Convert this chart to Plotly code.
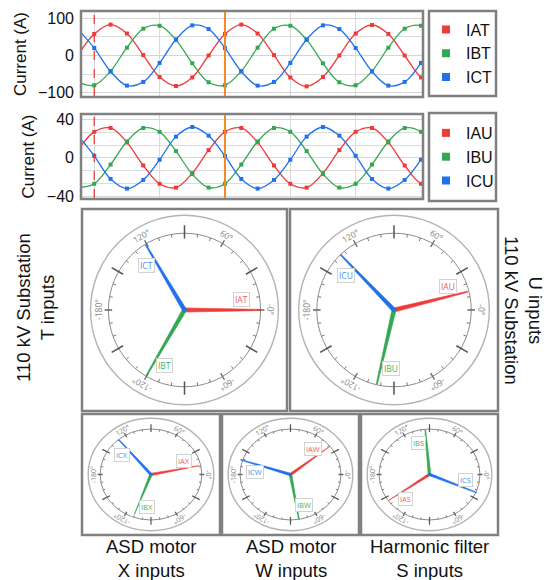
import math
import plotly.graph_objects as go

W, H = 546, 580

# ---------------- data ----------------
sample_index = list(range(-1, 22))          # sampling instants, 8 per cycle
cursor_samples = [0, 8]                      # red dashed cursor, orange cursor
grid_samples = [0, 4, 8, 12, 16, 20]

IAT = [1, 58, 83, 59, 1, -58, -82, -59, 0, 58, 83, 59, 1, -59, -83, -58, 0, 59, 82, 58, 0, -59, -83]
IBT = [-72, -80, -42, 21, 72, 80, 42, -21, -72, -80, -42, 21, 72, 80, 42, -21, -72, -80, -42, 21, 72, 80, 42]
ICT = [71, 20, -43, -81, -71, -20, 43, 81, 71, 20, -43, -81, -71, -20, 43, 81, 71, 20, -43, -81, -71, -20, 43]

IAU = [8, 27, 31, 16, -8, -27, -31, -16, 8, 27, 31, 16, -8, -27, -31, -16, 8, 27, 31, 16, -8, -27, -31]
IBU = [-31, -27, -7, 17, 31, 27, 7, -17, -31, -27, -7, 17, 31, 27, 7, -17, -31, -27, -7, 17, 31, 27, 7]
ICU = [23, 2, -22, -32, -23, -2, 22, 32, 23, 2, -22, -32, -23, -2, 22, 32, 23, 2, -22, -32, -23, -2, 22]

T_names = ["IAT", "IBT", "ICT"]
U_names = ["IAU", "IBU", "ICU"]
T_tickvals = [-100, 0, 100]
T_minor = [-50, 50]
U_tickvals = [-40, 0, 40]
U_minor = [-26.7, -13.3, 13.3, 26.7]

# phasors: angle (deg), magnitude relative to dial ring
T_ph_names = ["IAT", "IBT", "ICT"]; T_ph_angles = [0.0, -120.3, 120.9]; T_ph_mags = [1.00, 0.99, 0.99]
U_ph_names = ["IAU", "IBU", "ICU"]; U_ph_angles = [14.0, -103.0, 133.8]; U_ph_mags = [0.98, 0.99, 1.00]
X_ph_names = ["IAX", "IBX", "ICX"]; X_ph_angles = [12.0, -110.0, 129.7]; X_ph_mags = [0.97, 0.94, 0.99]
W_ph_names = ["IAW", "IBW", "ICW"]; W_ph_angles = [38.9, -80.4, 161.8]; W_ph_mags = [1.00, 0.98, 1.04]
S_ph_names = ["IAS", "IBS", "ICS"]; S_ph_angles = [-144.4, 94.9, -23.1]; S_ph_mags = [0.99, 0.98, 1.01]

dial_label_angles = [0, 60, 120, 180, -120, -60]
dial_label_texts = ["-0°", "60°", "120°", "-180°", "-120°", "-60°"]

side_texts = ["110 kV Substation<br>T inputs", "U inputs<br>110 kV Substation"]
captions = ["ASD motor<br>X inputs", "ASD motor<br>W inputs", "Harmonic filter<br>S inputs"]

# ---------------- style ----------------
RED, GREEN, BLUE = "#ef3a3a", "#33a852", "#1f72ea"
PH_COL = [RED, GREEN, BLUE]
LAB_COL = ["#f05b5b", "#45b060", "#4d8ff0"]
ARIAL = "Arial, Liberation Sans, sans-serif"
SEGOE = "Open Sans, Noto Sans, sans-serif"
BORDER = "#808080"


def fx(p):
    return p / W


def fy(p):
    return 1 - p / H


fig = go.Figure()

# ---------------- waveform panels ----------------
wave_sets = [
    (T_names, [IAT, IBT, ICT], "x", "y", "legend"),
    (U_names, [IAU, IBU, ICU], "x2", "y2", "legend2"),
]
for names, series, xa, ya, lg in wave_sets:
    for nm, vals, col in zip(names, series, PH_COL):
        fig.add_trace(go.Scatter(
            x=sample_index, y=vals, mode="lines+markers",
            line=dict(color=col, width=1.3, shape="spline"),
            marker=dict(symbol="square", size=4, color=col),
            showlegend=False, hoverinfo="skip", xaxis=xa, yaxis=ya))
    for nm, col in zip(names, PH_COL):
        fig.add_trace(go.Scatter(
            x=[None], y=[None], mode="markers", name=nm,
            marker=dict(symbol="square", size=8, color=col),
            legend=lg, xaxis=xa, yaxis=ya))

wave_boxes = [(81, 11, 423, 97), (81, 114, 423, 199)]
legend_boxes = [(429, 11, 496, 96), (429, 113, 496, 201)]
wave_yranges = [[-108.9, 116.9], [-41.8, 44.5]]
wave_ticks = [(T_tickvals, T_minor), (U_tickvals, U_minor)]

layout = dict(
    width=W, height=H, margin=dict(l=0, r=0, t=0, b=0),
    paper_bgcolor="white", plot_bgcolor="white",
    template="none", showlegend=True,
    font=dict(family=ARIAL, color="#111"),
)

shapes = []
annotations = []

for i, (box, yr, (tv, mv)) in enumerate(zip(wave_boxes, wave_yranges, wave_ticks)):
    sfx = "" if i == 0 else str(i + 1)
    x0, y0, x1, y1 = box
    layout["xaxis" + sfx] = dict(
        domain=[fx(x0 + 1), fx(x1 - 1)], range=[-0.75, 20.06],
        anchor="y" + sfx, tickvals=grid_samples, showticklabels=False,
        showgrid=True, gridcolor="#dadada", gridwidth=1, zeroline=False,
        ticks="", showline=False, fixedrange=True)
    layout["yaxis" + sfx] = dict(
        domain=[fy(y1 - 1), fy(y0 + 1)], range=yr, anchor="x" + sfx,
        tickvals=tv, showgrid=True, gridcolor="#d6d6d6", zeroline=False,
        ticks="", showline=False, ticklabelstandoff=7,
        tickfont=dict(size=16, family=ARIAL, color="#111"),
        minor=dict(tickvals=mv, showgrid=True, gridcolor="#dcdcdc", ticks=""),
        title=dict(text="Current (A)", font=dict(size=17, family=ARIAL, color="#111"), standoff=7),
        automargin=False, fixedrange=True)
    shapes.append(dict(type="rect", xref="paper", yref="paper",
                       x0=fx(x0), x1=fx(x1), y0=fy(y1), y1=fy(y0),
                       line=dict(color=BORDER, width=2.5)))
    lb = legend_boxes[i]
    shapes.append(dict(type="rect", xref="paper", yref="paper",
                       x0=fx(lb[0]), x1=fx(lb[2]), y0=fy(lb[3]), y1=fy(lb[1]),
                       line=dict(color=BORDER, width=2.5)))
    layout["legend" if i == 0 else "legend2"] = dict(
        x=fx(lb[0] - 3), xanchor="left", y=fy((lb[1] + lb[3]) / 2), yanchor="middle",
        bgcolor="rgba(0,0,0,0)", borderwidth=0,
        font=dict(size=16, family=ARIAL, color="#111"), itemwidth=30)
    # cursors
    for cs, style in zip(cursor_samples, [dict(color=RED, width=1.3, dash="dash"),
                                           dict(color="#f08a24", width=2)]):
        shapes.append(dict(type="line", xref="x" + sfx, yref="y" + sfx + " domain",
                           x0=cs, x1=cs, y0=0, y1=1, line=style))

# ---------------- phasor panels ----------------
phasor_boxes = [(82, 209, 287, 411), (290, 209, 498, 411),
                (82, 414, 220, 535), (222, 414, 359, 535), (361, 414, 498, 535)]
panels = [
    (T_ph_names, T_ph_angles, T_ph_mags),
    (U_ph_names, U_ph_angles, U_ph_mags),
    (X_ph_names, X_ph_angles, X_ph_mags),
    (W_ph_names, W_ph_angles, W_ph_mags),
    (S_ph_names, S_ph_angles, S_ph_mags),
]
RING = 0.81


def phase_index(name):
    return "ABC".index(name[1])


for k, (box, (names, angs, mags)) in enumerate(zip(phasor_boxes, panels)):
    n = k + 3
    xa, ya = "x%d" % n, "y%d" % n
    big = k < 2
    x0, y0, x1, y1 = box
    layout["xaxis%d" % n] = dict(domain=[fx(x0 + 1.5), fx(x1 - 1.5)], range=[-1.075, 1.075],
                                 anchor=ya, visible=False, fixedrange=True)
    layout["yaxis%d" % n] = dict(domain=[fy(y1 - 1.5), fy(y0 + 1.5)], range=[-1.05, 1.05],
                                 anchor=xa, visible=False, fixedrange=True)
    shapes.append(dict(type="rect", xref="paper", yref="paper",
                       x0=fx(x0), x1=fx(x1), y0=fy(y1), y1=fy(y0),
                       line=dict(color=BORDER, width=2.5)))
    # dial circles
    shapes.append(dict(type="circle", xref=xa, yref=ya, x0=-1, x1=1, y0=-1, y1=1,
                       line=dict(color="#b4b4b4", width=1.4), layer="below"))
    shapes.append(dict(type="circle", xref=xa, yref=ya, x0=-RING, x1=RING, y0=-RING, y1=RING,
                       line=dict(color="#8c8c8c", width=1), layer="below"))
    # ticks
    groups = {"minor": ([], [], 0.775, 0.81, 1.0, "#7a7a7a"),
              "mid": ([], [], 0.77, 0.85, 1.3, "#666"),
              "long": ([], [], 0.755, 0.895, 1.5 if big else 1.2, "#555")}
    for deg in range(-180, 180, 10):
        g = "mid" if deg % 60 == 0 else ("long" if deg % 30 == 0 else "minor")
        xs, ys, r0, r1, _, _ = groups[g]
        c, s = math.cos(math.radians(deg)), math.sin(math.radians(deg))
        xs += [r0 * c, r1 * c, None]
        ys += [r0 * s, r1 * s, None]
    for g, (xs, ys, r0, r1, wdt, col) in groups.items():
        fig.add_trace(go.Scatter(x=xs, y=ys, mode="lines", line=dict(color=col, width=wdt),
                                 hoverinfo="skip", showlegend=False, xaxis=xa, yaxis=ya))
    # dial labels
    for a, t in zip(dial_label_angles, dial_label_texts):
        annotations.append(dict(
            x=0.91 * math.cos(math.radians(a)), y=0.91 * math.sin(math.radians(a)),
            xref=xa, yref=ya, text=t, showarrow=False, textangle=90 - a,
            xanchor="center", yanchor="middle",
            font=dict(size=8.5 if big else 7, family=SEGOE, color="#858585")))
    # phasors
    w0, w1 = 0.022, 0.006
    lab_r, lab_d = (0.62, 10) if big else (0.58, 13)
    for nm, a, m in zip(names, angs, mags):
        pi = phase_index(nm)
        col = PH_COL[pi]
        ar = math.radians(a)
        ux, uy = math.cos(ar), math.sin(ar)
        px, py = -uy, ux
        L = m * RING
        bx, by = -0.012 * ux, -0.012 * uy
        xs = [bx + px * w0, L * ux + px * w1, L * ux - px * w1, bx - px * w0, bx + px * w0]
        ys = [by + py * w0, L * uy + py * w1, L * uy - py * w1, by - py * w0, by + py * w0]
        fig.add_trace(go.Scatter(x=xs, y=ys, mode="lines", fill="toself", fillcolor=col,
                                 line=dict(color=col, width=0.6), hoverinfo="skip",
                                 showlegend=False, xaxis=xa, yaxis=ya))
        la = math.radians(a + lab_d)
        annotations.append(dict(
            x=lab_r * math.cos(la), y=lab_r * math.sin(la), xref=xa, yref=ya,
            text=nm, showarrow=False, bgcolor="white", bordercolor="#d2d2d2",
            borderwidth=1, borderpad=1, xanchor="center", yanchor="middle",
            font=dict(size=8.5 if big else 7.5, family=SEGOE, color=LAB_COL[pi])))

# side texts
annotations.append(dict(x=fx(35), y=fy(308), xref="paper", yref="paper", text=side_texts[0],
                        showarrow=False, textangle=-90, xanchor="center", yanchor="middle",
                        font=dict(size=18.5, family=ARIAL, color="#111")))
annotations.append(dict(x=fx(524), y=fy(310), xref="paper", yref="paper", text=side_texts[1],
                        showarrow=False, textangle=90, xanchor="center", yanchor="middle",
                        font=dict(size=18.5, family=ARIAL, color="#111")))
# captions
for box, cap in zip(phasor_boxes[2:], captions):
    annotations.append(dict(x=fx((box[0] + box[2]) / 2), y=fy(558), xref="paper", yref="paper",
                            text=cap, showarrow=False, xanchor="center", yanchor="middle",
                            font=dict(size=18.5, family=ARIAL, color="#111")))

layout["shapes"] = shapes
layout["annotations"] = annotations
fig.update_layout(**layout)
fig.write_html("out.html", config={"displayModeBar": False},
               post_script="document.body.style.margin='0';document.body.style.padding='0';")
